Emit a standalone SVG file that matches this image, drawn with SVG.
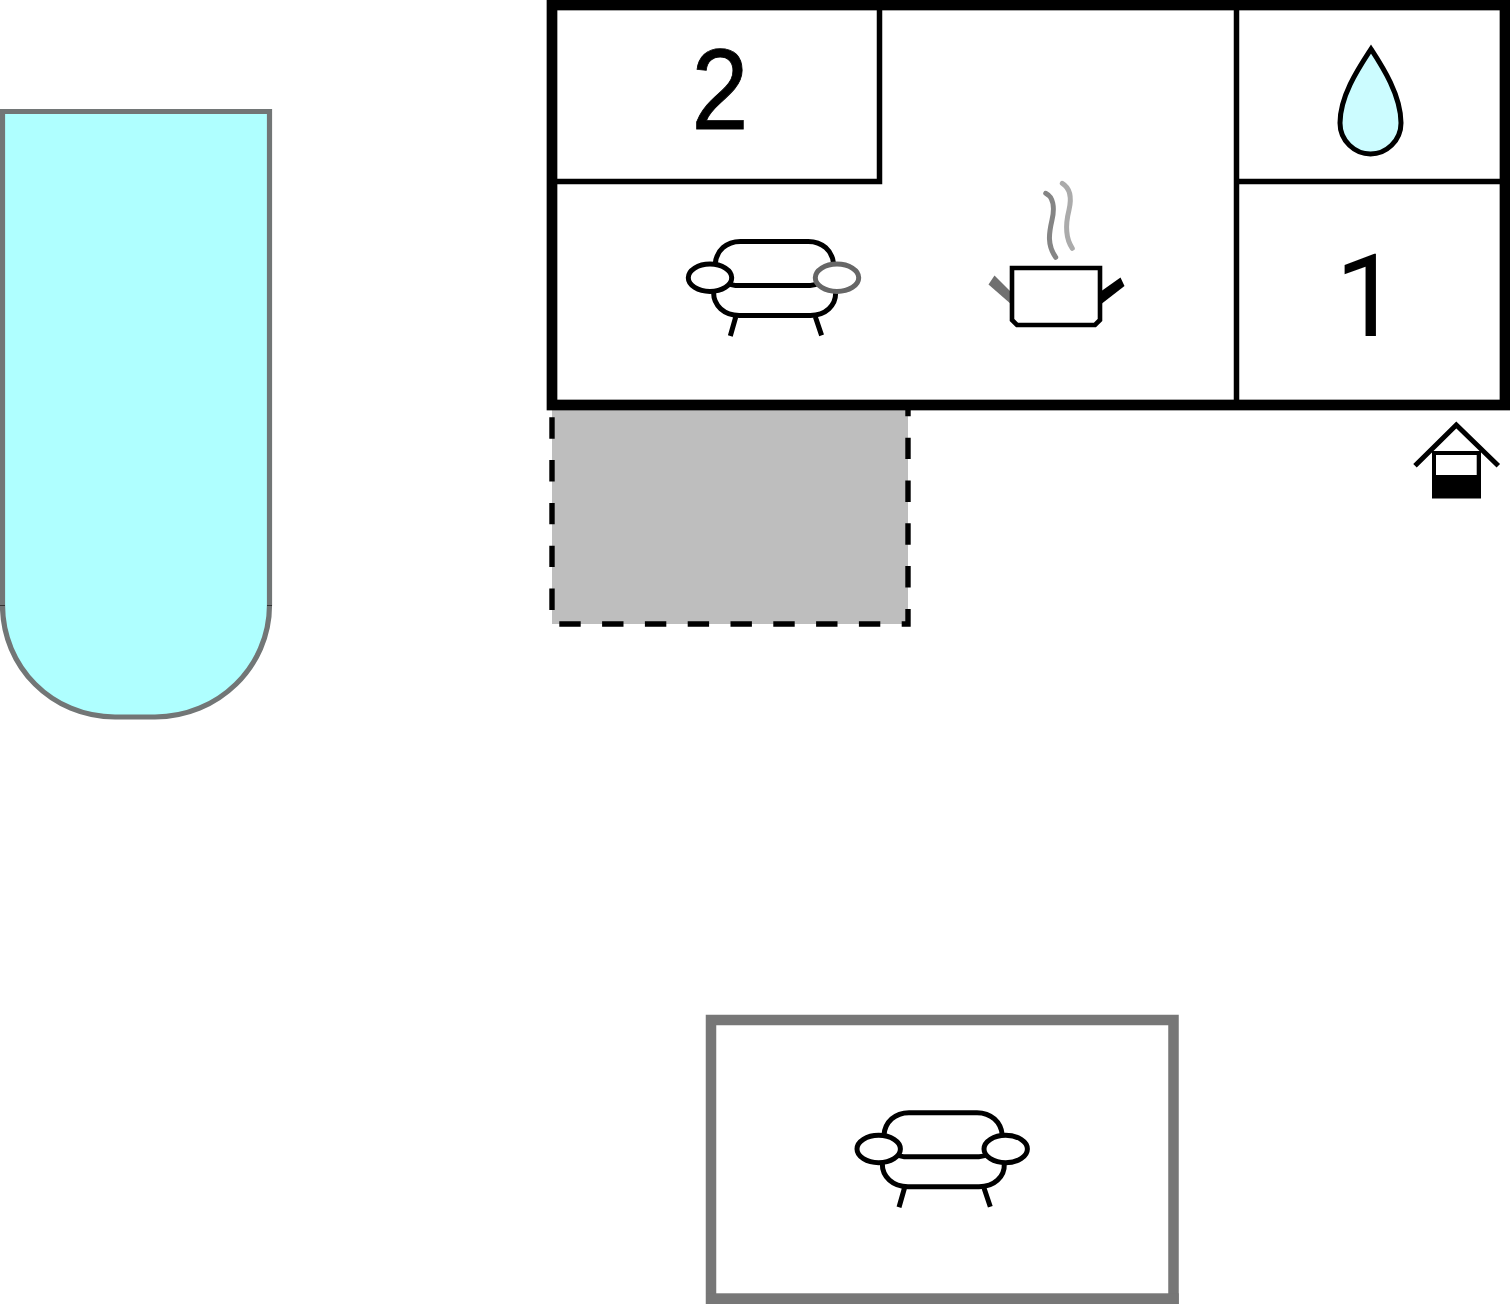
<svg xmlns="http://www.w3.org/2000/svg" width="1510" height="1304" viewBox="0 0 1510 1304">
<style>
.wall{fill:none;stroke:#000;stroke-width:10.7}
.in{fill:none;stroke:#000;stroke-width:5.5}
.ic{fill:none;stroke:#000;stroke-width:5;stroke-linecap:butt}
.num{font-size:115px;fill:#000}
</style>
<defs>
<g id="sofa">
<path class="ic" d="M884 1135C885 1122 895 1112.7 909 1112.7H977C991 1112.7 1001 1122 1002.3 1135"/>
<path class="ic" d="M896 1154C899 1156 901 1156.7 904 1156.7H979C982 1156.7 985 1156 988 1154"/>
<path class="ic" d="M882.3 1163.3C882 1177 893 1186.7 908 1186.7H979C994 1186.7 1005 1177 1004.3 1163.3"/>
<path class="ic" d="M904.5 1188L899 1207.3M984 1188L990.3 1206.7"/>
</g>
</defs>
<rect width="1510" height="1304" fill="#fff"/>
<g id="pool">
<path d="M2.5 111.5H269.5V605C269.5 667 218 717 155 717H115C52 717 2.5 667 2.5 605Z" fill="#afffff" stroke="#727676" stroke-width="5.2"/>
<path d="M0 605.5H5M267 605.5H272" stroke="#333" stroke-width="1"/>
</g>
<g id="terrace">
<rect x="552" y="405" width="356" height="219" fill="#bebebe"/>
<path d="M552 417.3V624H908V405" fill="none" stroke="#000" stroke-width="5.4" stroke-dasharray="21.4 21.4"/>
</g>
<g id="house">
<rect class="wall" x="552" y="5" width="953" height="400"/>
<path class="in" d="M552 181.5H879.5V5M1236.5 5V405M1236.5 181.5H1505"/>
</g>
<g id="bedroom-2"><text class="num" font-family="'Liberation Sans',Arial,sans-serif" text-anchor="middle" stroke="#000" stroke-width=".9" transform="translate(720 129.3) scale(.89 1)">2</text></g>
<g id="bathroom">
<path d="M1371 49C1360 66 1340 95 1340 123C1340 141 1355 154 1370.5 154C1386 154 1401 141 1401 123C1401 95 1382 66 1371 49Z" fill="#ccfcff" stroke="#000" stroke-width="5"/>
</g>
<g id="bedroom-1"><text class="num" font-family="Roboto,'Liberation Sans',sans-serif" x="1335" y="336">1</text></g>
<g id="living-sofa">
<use href="#sofa" transform="translate(-168.7 -871.3)"/>
<ellipse cx="710" cy="277.7" rx="21.7" ry="13.7" fill="#fff" stroke="#000" stroke-width="5"/>
<ellipse cx="837" cy="277.7" rx="21.7" ry="13.7" fill="#fff" stroke="#666" stroke-width="5"/>
</g>
<g id="kitchen">
<path d="M994.5 275.5L988.5 284.5L1012 305V293Z" fill="#707070"/>
<path d="M1120.5 277.5L1124.5 286L1100 305V292Z" fill="#000"/>
<path d="M1012 268H1100V320L1095 325H1017L1012 320Z" fill="#fff" stroke="#000" stroke-width="4.6"/>
<path d="M1045.7 193.3C1053 197 1055 207 1052 220C1049 233 1047 245 1055.7 257.3" fill="none" stroke="#858585" stroke-width="5" stroke-linecap="round"/>
<path d="M1062.3 183.3C1070 188 1072 197 1069 210C1066 222 1064 236 1072.3 248.3" fill="none" stroke="#ababab" stroke-width="5" stroke-linecap="round"/>
</g>
<g id="well">
<rect x="1432" y="451" width="49" height="47.5" fill="#000"/>
<rect x="1436" y="455" width="40.7" height="20" fill="#fff"/>
<path d="M1415 465.7L1456.3 425L1498.3 465.7" fill="none" stroke="#000" stroke-width="5"/>
</g>
<g id="annex">
<path d="M711 1304V1020H1173.5V1304" fill="#fff" stroke="#777" stroke-width="10.5"/>
<rect x="706" y="1293.3" width="472.7" height="10.7" fill="#777"/>
<use href="#sofa"/>
<ellipse cx="878.7" cy="1149" rx="21.7" ry="13.7" fill="#fff" stroke="#000" stroke-width="5"/>
<ellipse cx="1005.7" cy="1149" rx="21.7" ry="13.7" fill="#fff" stroke="#000" stroke-width="5"/>
</g>
</svg>
